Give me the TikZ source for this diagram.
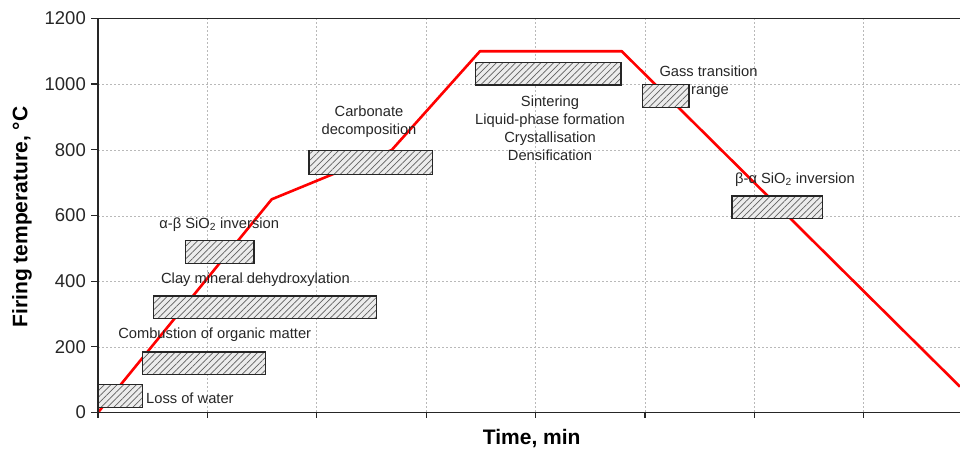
\documentclass[tikz,border=0pt]{standalone}
\usepackage{fontspec}
\setmainfont{Liberation Sans}
\usetikzlibrary{patterns.meta}
\begin{document}
\begin{tikzpicture}[x={(1pt,0pt)},y={(0pt,-1pt)},
  gridline/.style={gray!55,line width=0.7pt,dash pattern=on 2pt off 2pt},
  axisline/.style={black!85,line width=1.4pt},
  curve/.style={red,line width=2.6pt,line join=round},
  hbox/.style={draw=black!85,line width=1.3pt,preaction={fill=gray!15},
    pattern={Lines[angle=45,distance=4.5pt,line width=0.7pt]},pattern color=gray!75!black,
    inner sep=0pt,outer sep=0pt,anchor=north west,minimum height=22.7pt},
  ann/.style={font=\fontsize{14.7}{17.8}\selectfont,text=black!85,inner sep=0pt},
  ticklab/.style={font=\fontsize{18.5}{20}\selectfont,text=black!85,inner sep=0pt},
  axlab/.style={font=\fontsize{21}{24}\selectfont\bfseries,text=black,inner sep=0pt}]
\useasboundingbox (0,0) rectangle (960,451);
% grid
\foreach \yy in {84.7,150.4,216.1,281.8,347.5}
  \draw[gridline] (98,\yy) -- (960,\yy);
\foreach \xx in {207.4,316.8,426.2,535.6,645,754.4,863.8}
  \draw[gridline] (\xx,18.3) -- (\xx,412.5);
% firing curve
\coordinate (p0) at (98,412.5);
\coordinate (p1) at (271.7,199.3);
\coordinate (p2) at (391.7,150);
\coordinate (p3) at (480,51.2);
\coordinate (p4) at (621.7,51.2);
\coordinate (p5) at (960,386.7);
\draw[curve] (p0) -- (p1) -- (p2) -- (p3) -- (p4) -- (p5);
% hatched boxes
\node[hbox,minimum width=45pt] (lw) at (97.7,384.8) {};
\node[hbox,minimum width=123pt] (comb) at (142.7,352) {};
\node[hbox,minimum width=223.4pt] (clay) at (153.3,296) {};
\node[hbox,minimum width=68.3pt] (ab) at (185.7,240.7) {};
\node[hbox,minimum width=123.7pt,minimum height=24pt] (carb) at (309,150.2) {};
\node[hbox,minimum width=145.3pt] (sint) at (475.7,62.3) {};
\node[hbox,minimum width=46.3pt] (gass) at (642.7,84.5) {};
\node[hbox,minimum width=90.3pt] (ba) at (732,196) {};
% axes
\draw[axisline] (960,18.3) -- (98,18.3) -- (98,412.5) -- (960,412.5);
\foreach \yy/\lab in {412.5/0,346.8/200,281.1/400,215.4/600,149.7/800,84.0/1000,18.3/1200}{
  \draw[axisline,line width=1.2pt] (91,\yy) -- (98,\yy);
  \node[ticklab,anchor=east] (yt\lab) at (86,\yy) {\lab};
}
\foreach \xx in {98,207.4,316.8,426.2,535.6,645,754.4,863.8}
  \draw[axisline,line width=1.2pt] (\xx,412.5) -- (\xx,418);
\node[axlab,rotate=90] (ylab) at (22,217) {Firing temperature, °C};
\node[axlab] (xlab) at (531.7,439) {Time, min};
% labels
\node[ann,anchor=west] (tlw) at (146,398.5) {Loss of water};
\node[ann] (tcomb) at (214.7,335) {Combustion of organic matter};
\node[ann] (tclay) at (255.5,280) {Clay mineral dehydroxylation};
\node[ann] (tab) at (219.2,224.3) {α-β SiO\textsubscript{2} inversion};
\node[ann,align=center] (tcarb) at (369,122) {Carbonate\\decomposition};
\node[ann,align=center,font=\fontsize{14.7}{18}\selectfont] (tsint) at (550,128) {Sintering\\Liquid-phase formation\\Crystallisation\\Densification};
\node[ann,anchor=west] (tgass) at (659.3,71) {Gass transition};
\node[ann,anchor=west] (trange) at (691,91.7) {range};
\node[ann] (tba) at (795,179.3) {β-α SiO\textsubscript{2} inversion};
\end{tikzpicture}
\end{document}
